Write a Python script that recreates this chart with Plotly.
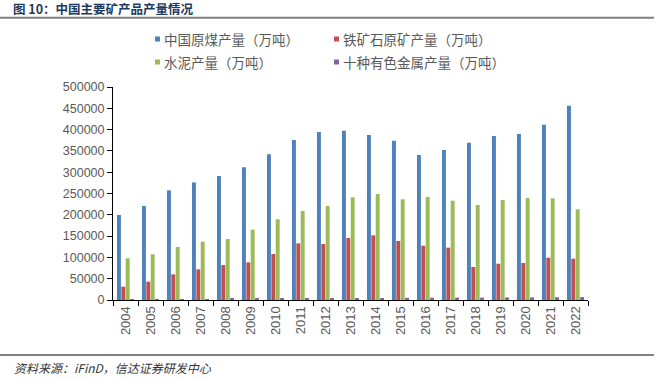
import plotly.graph_objects as go

years = [str(y) for y in range(2004, 2023)]
coal = [199500, 220600, 257500, 276000, 291000, 311500, 342000, 375600, 394500, 397400,
        387400, 374000, 340400, 352100, 369300, 385000, 389700, 411600, 456100]
iron_ore = [31300, 43000, 60300, 72000, 82100, 88400, 108000, 133000, 131400, 145500,
            151800, 138500, 127500, 122800, 77500, 85200, 86900, 99300, 97000]
cement = [97800, 107200, 124400, 136900, 143200, 165000, 189400, 208900, 220700, 241000,
          248800, 236300, 241800, 233100, 223000, 234700, 239400, 238600, 212900]
nonferrous = [1400, 1600, 1900, 2300, 2500, 2600, 3100, 3400, 3700, 4100,
              4400, 5100, 5300, 5500, 5700, 5900, 6200, 6500, 6800]

names = ["中国原煤产量（万吨）", "铁矿石原矿产量（万吨）", "水泥产量（万吨）", "十种有色金属产量（万吨）"]
colors = ["#4F81BD", "#C0504D", "#9BBB59", "#8064A2"]
series = [coal, iron_ore, cement, nonferrous]
y_ticks = list(range(0, 500001, 50000))

W, H = 658, 379
L, R, T, B = 113, 70, 87, 79
PW, PH = W - L - R, H - T - B


def px(x):
    return (x - L) / PW


def py(y):
    return (H - B - y) / PH


fig = go.Figure()
for name, vals, col in zip(names, series, colors):
    fig.add_trace(go.Bar(x=years, y=vals, name=name, marker=dict(color=col, line=dict(width=0)),
                         showlegend=False))

fig.update_layout(
    width=W, height=H,
    margin=dict(l=L, r=R, t=T, b=B, autoexpand=False),
    paper_bgcolor="white", plot_bgcolor="white",
    barmode="group", bargap=0.3, bargroupgap=0.1,
    font=dict(family="Liberation Sans, Arial, sans-serif", color="#595959"),
    xaxis=dict(type="category", tickson="boundaries", ticks="outside", ticklen=5,
               tickcolor="#000000", showline=True, linecolor="#000000", linewidth=1,
               tickangle=-90, tickfont=dict(size=13, color="#595959"),
               showgrid=False, zeroline=False),
    yaxis=dict(range=[0, 500000], tickvals=y_ticks, ticktext=[str(v) for v in y_ticks],
               ticks="outside", ticklen=5, tickcolor="#000000", showline=True,
               linecolor="#000000", linewidth=1, tickfont=dict(size=12.5, color="#595959"),
               showgrid=False, zeroline=False),
)

shapes = []
annotations = []

# title and rules
annotations.append(dict(xref="paper", yref="paper", x=px(12), y=py(8.5), xanchor="left", yanchor="middle",
                        text="<b>图 10：中国主要矿产品产量情况</b>", showarrow=False, borderpad=0,
                        font=dict(family="Noto Sans CJK SC", size=12.5, color="#1F3A60")))
shapes.append(dict(type="line", xref="paper", yref="paper", x0=px(0), x1=px(654), y0=py(17.7), y1=py(17.7),
                   line=dict(color="#808080", width=2)))
shapes.append(dict(type="line", xref="paper", yref="paper", x0=px(0), x1=px(654), y0=py(355), y1=py(355),
                   line=dict(color="#808080", width=2)))
annotations.append(dict(xref="paper", yref="paper", x=px(12), y=py(367), xanchor="left", yanchor="middle",
                        text="<i>资料来源：iFinD，信达证券研发中心</i>", showarrow=False,
                        font=dict(family="Noto Sans CJK SC", size=12, color="#333333")))

# legend
leg_pos = [(155, 39), (334, 39), (155, 62), (334, 62)]
for (lx, ly), name, col in zip(leg_pos, names, colors):
    shapes.append(dict(type="rect", xref="paper", yref="paper", x0=px(lx), x1=px(lx + 5),
                       y0=py(ly - 2.5), y1=py(ly + 2.5), fillcolor=col, line=dict(width=0)))
    annotations.append(dict(xref="paper", yref="paper", x=px(lx + 7), y=py(ly), xanchor="left",
                            yanchor="middle", text=name, showarrow=False,
                            font=dict(family="Noto Sans CJK SC", size=13.5, color="#595959")))

fig.update_layout(shapes=shapes, annotations=annotations)
fig.write_html("out.html", config={"displayModeBar": False},
               post_script="document.body.style.margin='0px';document.body.style.overflow='hidden';")
